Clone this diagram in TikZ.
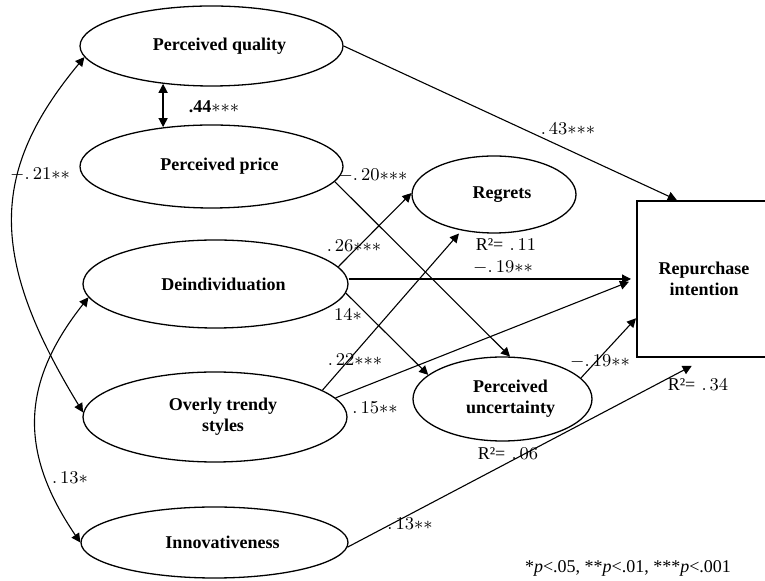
\documentclass[tikz,border=0pt]{standalone}
\usepackage{fontspec}
\newfontfamily\tnr{Liberation Serif}
\usetikzlibrary{arrows.meta,shapes.geometric}

\begin{document}
\begin{tikzpicture}[
  x=0.5pt, y=-0.5pt,
  latent/.style={ellipse,draw,line width=0.65pt,inner sep=0pt,align=center,
    font=\tnr\bfseries\fontsize{9}{10.5}\selectfont,execute at begin node={\hspace*{8pt}}},
  effect/.style={-{Triangle[length=4.5pt,width=4.5pt]},line width=0.55pt},
  corr/.style={{Triangle[length=4.5pt,width=4.5pt]}-{Triangle[length=4.5pt,width=4.5pt]},line width=0.55pt},
  coef/.style={inner sep=0pt,font=\fontsize{9}{10}\selectfont},
]
  \useasboundingbox (0,0) rectangle (765,581);
  \clip (0,0) rectangle (765,581);

  \node[latent,minimum width=131.5pt,minimum height=40pt] (pq) at (211.5,46) {Perceived quality};
  \node[latent,minimum width=131.5pt,minimum height=41.5pt] (pp) at (211.5,166.5) {Perceived price};
  \node[latent,minimum width=132.5pt,minimum height=44pt] (deind) at (215.5,284) {Deindividuation};
  \node[latent,minimum width=132pt,minimum height=45pt] (ots) at (215,417) {Overly trendy\\styles};
  \node[latent,minimum width=133.5pt,minimum height=35.5pt] (innov) at (214.5,542.5) {Innovativeness};
  \node[latent,minimum width=82pt,minimum height=38.5pt] (regrets) at (494,194.5) {Regrets};
  \node[latent,minimum width=89.5pt,minimum height=42pt] (pu) at (502.5,399) {Perceived\\uncertainty};
  \node[draw,line width=1pt,minimum width=67pt,minimum height=78pt,align=center,
    font=\tnr\bfseries\fontsize{9}{10.5}\selectfont] (rep) at (704,279) {Repurchase\\intention};

  \draw[corr,line width=0.7pt] (pq.218) -- (pq.218 |- pp.140);
  \draw[corr] (pq.185) .. controls (-11,172) and (-11,258) .. (ots.178);
  \draw[corr] (deind.186) .. controls (22.5,381) and (17,449.5) .. (innov.west);

  \draw[effect] (pq.east) -- (rep.109);
  \draw[effect] (pp.-7) -- (pu.80);
  \draw[effect] (deind.8) -- (regrets.179);
  \draw[effect,shorten >=2pt] (ots.14) -- (regrets.228);
  \draw[effect,shorten >=2.5pt] (rep.west -| deind.east) -- (rep.west);
  \draw[effect] (deind.-4) -- (pu.162);
  \draw[effect,shorten >=3.8pt] (ots.9) -- (rep.180);
  \draw[effect] (pu.15) -- (rep.210);
  \draw[effect,shorten >=8.5pt] (innov.-2) -- (rep.272);

  \node[coef] (c44) at (214,107) {{\tnr\bfseries .44}${\ast}{\ast}{\ast}$};
  \node[coef] (c21) at (40,175) {$-.\,21{\ast}{\ast}$};
  \node[coef] (c13a) at (70,478) {$.\,13{\ast}$};
  \node[coef] (c43) at (568,129) {$.\,43{\ast}{\ast}{\ast}$};
  \node[coef] (c20) at (373,176) {$-.\,20{\ast}{\ast}{\ast}$};
  \node[coef] (c26) at (354,246) {$.\,26{\ast}{\ast}{\ast}$};
  \node[coef] (c19a) at (503,268) {$-.\,19{\ast}{\ast}$};
  \node[coef] (c14) at (348,315) {$14{\ast}$};
  \node[coef] (c22) at (355,360) {$.\,22{\ast}{\ast}{\ast}$};
  \node[coef] (c15) at (375,408) {$.\,15{\ast}{\ast}$};
  \node[coef] (c19b) at (600,362) {$-.\,19{\ast}{\ast}$};
  \node[coef] (c13b) at (410,524) {$.\,13{\ast}{\ast}$};

  \node[coef] (r11) at (506,245) {{\tnr R²=}\ $.\,11$};
  \node[coef] (r06) at (508,454) {{\tnr R²=}\ $.\,06$};
  \node[coef] (r34) at (698,385) {{\tnr R²=}\ $.\,34$};

  \node[coef,font=\tnr\fontsize{9}{10}\selectfont] (note) at (628,568) {*\textit{p}<.05, **\textit{p}<.01, ***\textit{p}<.001};
\end{tikzpicture}
\end{document}
